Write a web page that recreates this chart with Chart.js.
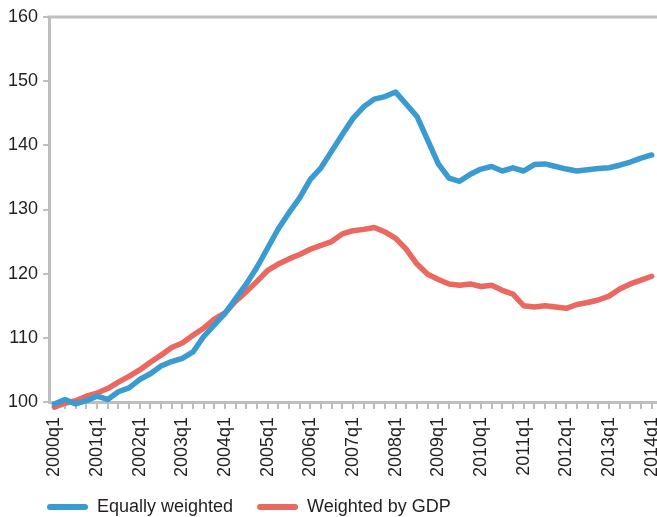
<!DOCTYPE html>
<html>
<head>
<meta charset="utf-8">
<script src="https://cdn.jsdelivr.net/npm/chart.js@4.4.1/dist/chart.umd.min.js"></script>
<style>
  html,body{margin:0;padding:0;background:#fff;}
  #wrap{width:657px;height:517px;position:relative;}
</style>
</head>
<body>
<div id="wrap"><canvas id="chart" width="657" height="517"></canvas></div>
<script>
/* quarterly index, 2000q1 = 100 */
const quarters = [
  "2000q1","2000q2","2000q3","2000q4","2001q1","2001q2","2001q3","2001q4",
  "2002q1","2002q2","2002q3","2002q4","2003q1","2003q2","2003q3","2003q4",
  "2004q1","2004q2","2004q3","2004q4","2005q1","2005q2","2005q3","2005q4",
  "2006q1","2006q2","2006q3","2006q4","2007q1","2007q2","2007q3","2007q4",
  "2008q1","2008q2","2008q3","2008q4","2009q1","2009q2","2009q3","2009q4",
  "2010q1","2010q2","2010q3","2010q4","2011q1","2011q2","2011q3","2011q4",
  "2012q1","2012q2","2012q3","2012q4","2013q1","2013q2","2013q3","2013q4",
  "2014q1"
];

const equallyWeighted = [
  99.7,100.4,99.7,100.2,100.9,100.4,101.6,102.2,
  103.5,104.4,105.6,106.3,106.8,107.8,110.2,112.0,
  113.8,116.1,118.4,121.0,124.0,127.0,129.5,131.8,
  134.7,136.5,139.1,141.7,144.2,146.0,147.2,147.6,
  148.3,146.4,144.5,140.8,137.1,134.9,134.4,135.5,
  136.3,136.7,136.0,136.5,136.0,137.0,137.1,136.7,
  136.3,136.0,136.2,136.4,136.5,136.9,137.4,138.0,
  138.5
];

const weightedByGDP = [
  99.2,99.8,100.2,100.9,101.4,102.1,103.1,104.0,
  105.0,106.2,107.3,108.5,109.2,110.4,111.5,112.9,
  113.9,115.7,117.2,118.8,120.5,121.5,122.3,123.0,
  123.8,124.4,125.0,126.2,126.7,126.9,127.2,126.5,
  125.5,123.8,121.5,119.9,119.1,118.4,118.2,118.4,
  118.0,118.2,117.4,116.8,115.0,114.8,115.0,114.8,
  114.6,115.2,115.5,115.9,116.5,117.6,118.4,119.0,
  119.6
];

const yTicks = [100,110,120,130,140,150,160];

const BLUE = "#3a9ad2";
const RED = "#ea685f";
const AXIS = "#bebebe";
const TEXT = "#231f20";
const FONT = {family:"'Liberation Sans', Arial, sans-serif", size:18};

// grey frame line along the top of the plot, and legend nudged into place
const frame = {
  id:"frame",
  afterLayout(chart){ chart.legend.left += 23; chart.legend.top -= 4; },
  beforeDatasetsDraw(chart){
    const a = chart.chartArea, ctx = chart.ctx;
    ctx.save();
    ctx.strokeStyle = AXIS; ctx.lineWidth = 3;
    ctx.beginPath(); ctx.moveTo(a.left-1.5, a.top); ctx.lineTo(a.right, a.top); ctx.stroke();
    ctx.restore();
  }
};

new Chart(document.getElementById("chart").getContext("2d"), {
  type:"line",
  data:{
    labels:quarters,
    datasets:[
      {label:"Equally weighted", data:equallyWeighted, borderColor:BLUE, backgroundColor:BLUE, clip:false,
       borderWidth:5.5, pointRadius:0, tension:0, borderJoinStyle:"round", borderCapStyle:"round"},
      {label:"Weighted by GDP", data:weightedByGDP, borderColor:RED, backgroundColor:RED, clip:false,
       borderWidth:5.5, pointRadius:0, tension:0, borderJoinStyle:"round", borderCapStyle:"round"}
    ]
  },
  options:{
    responsive:false,
    animation:false,
    layout:{padding:{top:17, left:0, right:0, bottom:0}},
    plugins:{
      tooltip:{enabled:false},
      legend:{
        position:"bottom", align:"start", maxHeight:39,
        labels:{
          font:FONT, color:TEXT, boxWidth:41, boxHeight:6, padding:24, useBorderRadius:true, borderRadius:3,
          generateLabels(chart){
            return chart.data.datasets.map((d,i)=>({
              text:d.label, fillStyle:d.borderColor, strokeStyle:d.borderColor,
              lineWidth:0, borderRadius:3, datasetIndex:i, hidden:false, fontColor:TEXT
            }));
          }
        }
      }
    },
    scales:{
      x:{
        offset:true,
        grid:{drawOnChartArea:false, drawTicks:true, tickLength:7, color:AXIS, lineWidth:2},
        border:{color:AXIS, width:3},
        ticks:{
          autoSkip:false, maxRotation:90, minRotation:90, padding:8, color:TEXT, font:FONT,
          callback(v,i){ return i%4===0 ? quarters[i] : ""; }
        },
        afterFit(s){ s.height = 76; s.paddingLeft = 0; s.paddingRight = 0; }
      },
      y:{
        min:100, max:160,
        afterBuildTicks(s){ s.ticks = yTicks.map(v=>({value:v})); },
        grid:{drawOnChartArea:false, drawTicks:true, tickLength:6, color:AXIS, lineWidth:2},
        border:{color:AXIS, width:3},
        ticks:{padding:5, color:TEXT, font:FONT},
        afterFit(s){ s.width = 49; }
      }
    }
  },
  plugins:[frame]
});
</script>
</body>
</html>
